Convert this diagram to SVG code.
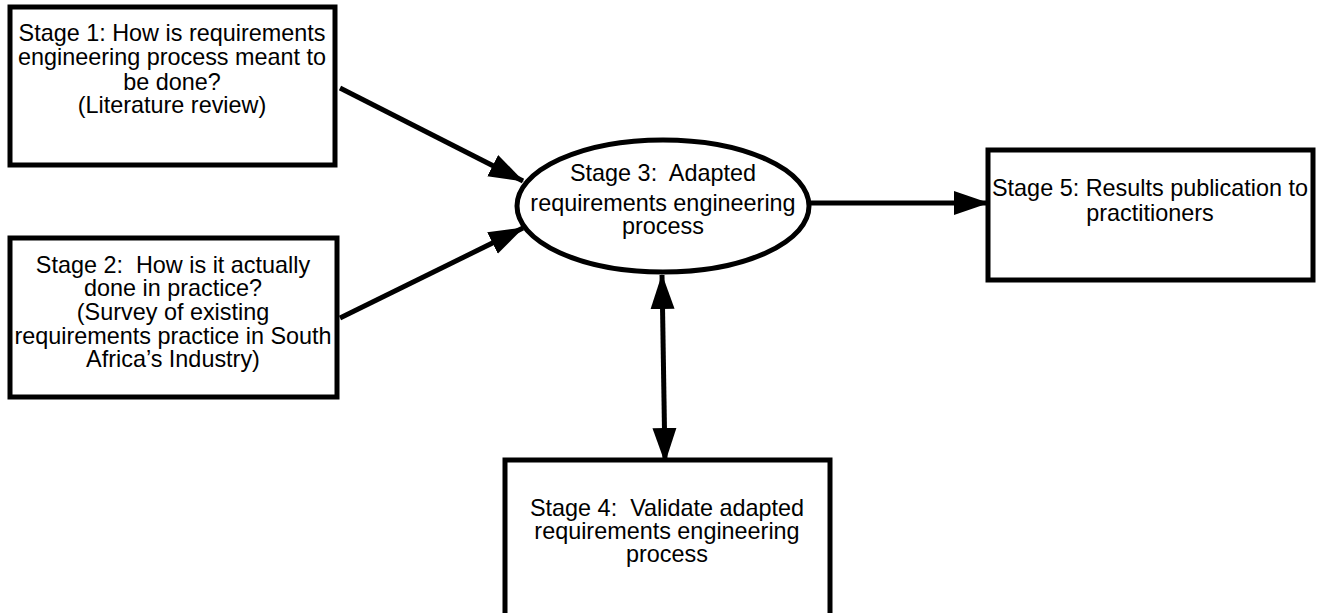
<svg xmlns="http://www.w3.org/2000/svg" width="1320" height="613" viewBox="0 0 1320 613">
<style>
.box{fill:#fff;stroke:#000;stroke-width:5}
.t{font-family:"Liberation Sans",Arial,sans-serif;font-size:23.4px;fill:#000;text-anchor:middle}
.c{stroke:#000;stroke-width:5;fill:none}
</style>
<defs>
<marker id="ah" markerUnits="userSpaceOnUse" markerWidth="36" markerHeight="26" refX="34" refY="13" orient="auto-start-reverse">
<path d="M0,1 L35,13 L0,25 Z" fill="#000"/>
</marker>
</defs>
<rect width="1320" height="613" fill="#fff"/>
<g id="connectors">
<line class="c" x1="340" y1="88" x2="523" y2="181" marker-end="url(#ah)"/>
<line class="c" x1="340" y1="318" x2="523" y2="228" marker-end="url(#ah)"/>
<line class="c" x1="810" y1="203" x2="988" y2="203" marker-end="url(#ah)"/>
<line class="c" x1="662" y1="275" x2="665" y2="462" marker-start="url(#ah)" marker-end="url(#ah)"/>
</g>
<g id="stage1">
<rect class="box" x="10" y="7" width="325" height="158"/>
<text class="t" x="172" y="41">Stage 1: How is requirements</text>
<text class="t" x="172" y="65">engineering process meant to</text>
<text class="t" x="172" y="90">be done?</text>
<text class="t" x="172" y="113">(Literature review)</text>
</g>
<g id="stage2">
<rect class="box" x="10" y="238" width="327" height="159"/>
<text class="t" x="173" y="273" xml:space="preserve">Stage 2:  How is it actually</text>
<text class="t" x="173" y="296">done in practice?</text>
<text class="t" x="173" y="320">(Survey of existing</text>
<text class="t" x="173" y="344">requirements practice in South</text>
<text class="t" x="173" y="367">Africa’s Industry)</text>
</g>
<g id="stage3">
<ellipse class="box" cx="663" cy="206" rx="146" ry="66"/>
<text class="t" x="663" y="181" xml:space="preserve">Stage 3:  Adapted</text>
<text class="t" x="663" y="211">requirements engineering</text>
<text class="t" x="663" y="234">process</text>
</g>
<g id="stage5">
<rect class="box" x="988" y="150" width="325" height="130"/>
<text class="t" x="1150" y="196">Stage 5: Results publication to</text>
<text class="t" x="1150" y="221">practitioners</text>
</g>
<g id="stage4">
<rect class="box" x="505" y="460" width="325" height="160"/>
<text class="t" x="667" y="516" xml:space="preserve">Stage 4:  Validate adapted</text>
<text class="t" x="667" y="539">requirements engineering</text>
<text class="t" x="667" y="562">process</text>
</g>
</svg>
